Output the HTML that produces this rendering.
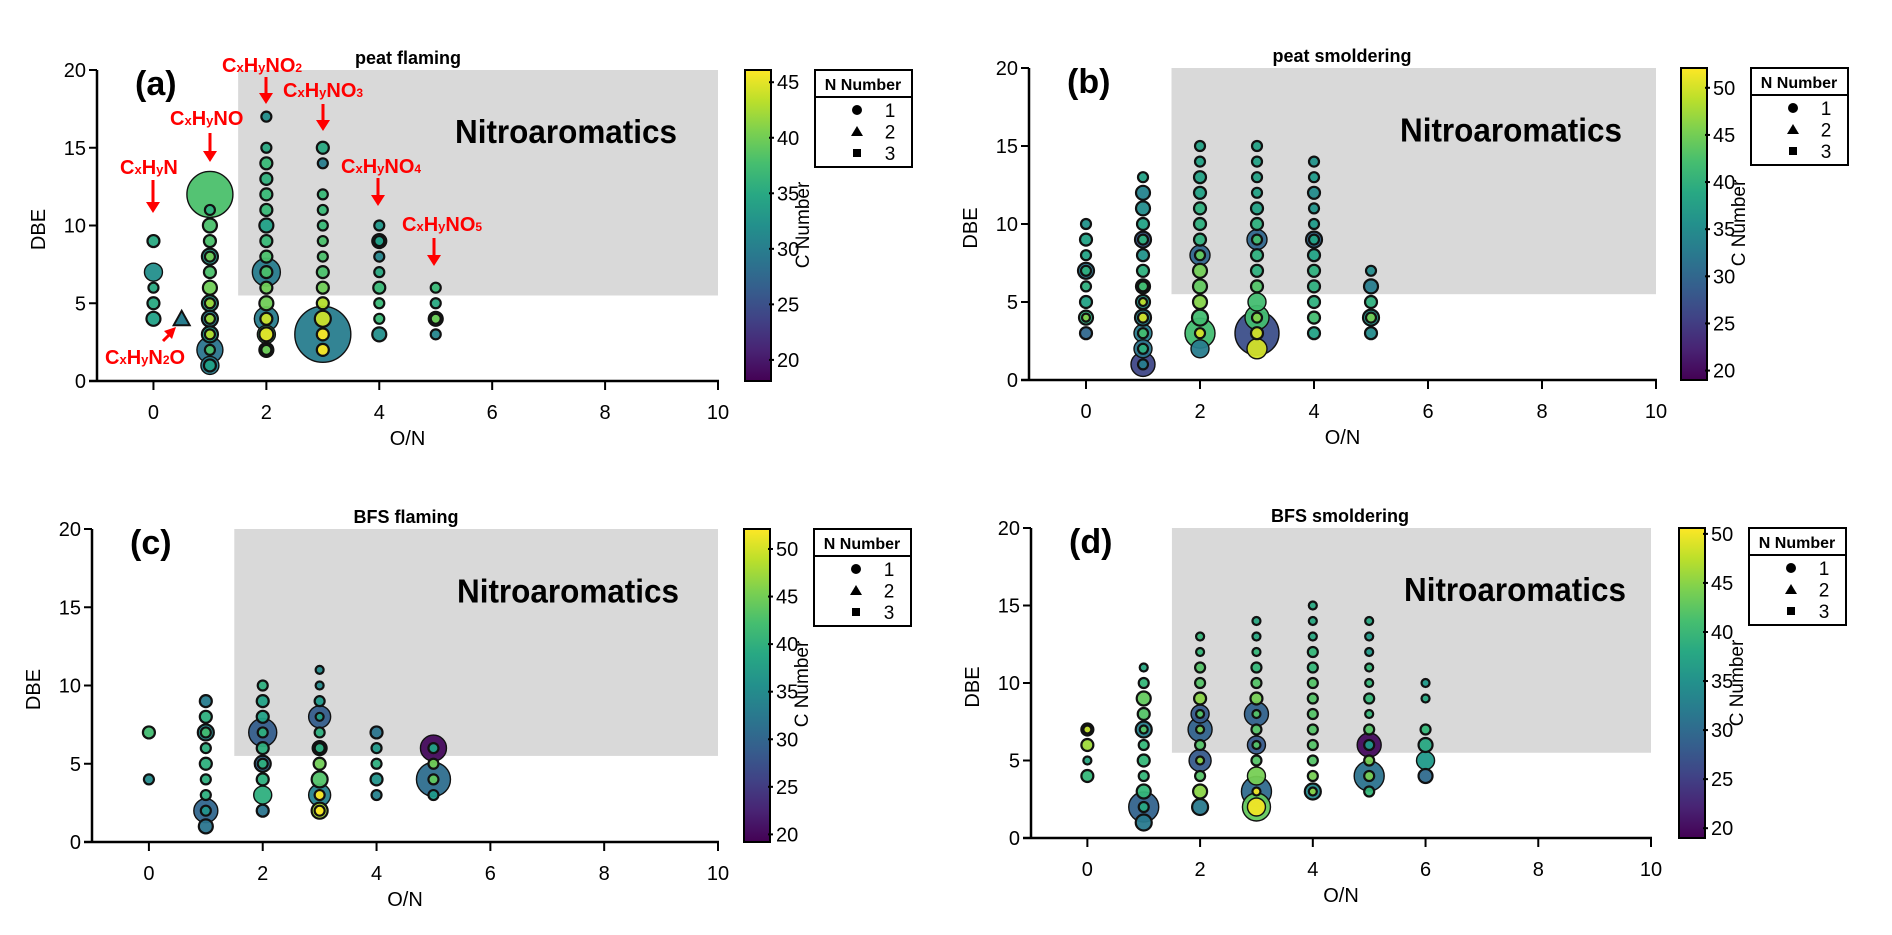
<!DOCTYPE html>
<html><head><meta charset="utf-8"><style>
html,body{margin:0;padding:0;background:#fff;}
svg{display:block;font-family:"Liberation Sans Narrow","Liberation Sans",sans-serif;}
</style></head><body>
<svg id="fig" width="1892" height="935" viewBox="0 0 1892 935" xmlns="http://www.w3.org/2000/svg"></svg>
<script>
// ---- data: [O/N, DBE, bubble size, C number] ----
const peatFlaming = [
[0,9,6,35],[0,7,9,32],[0,6,5,35],[0,5,6,35],[0,4,7,34],
[1,12,23,38],[1,11,5,36],[1,10,7,38],[1,9,6,38],[1,8,8,33],[1,8,5,40],[1,7,6,38],[1,6,7,40],[1,5,8,33],[1,5,5,42],[1,4,8,30],[1,4,5,42],[1,3,8,33],[1,3,5,43],[1,2,13,29],[1,2,5,38],[1,1,9,30],[1,1,6,34],
[2,17,5,32],[2,15,5,35],[2,14,6,37],[2,13,6,36],[2,12,6,37],[2,11,6,37],[2,10,7,34],[2,9,6,37],[2,8,6,38],[2,7,14,30],[2,7,6,38],[2,6,6,40],[2,5,7,40],[2,4,12,30],[2,4,6,44],[2,3,9,38],[2,3,7,45],[2,2,7,36],[2,2,5,40],
[3,15,6,35],[3,14,5,30],[3,12,5,37],[3,11,5,37],[3,10,5,37],[3,9,5,38],[3,8,5,38],[3,7,6,38],[3,6,6,40],[3,5,6,43],[3,4,8,44],[3,3,28,30],[3,3,6,46],[3,2,6,46],
[4,10,5,33],[4,9,7,31],[4,9,5,34],[4,8,5,31],[4,7,5,35],[4,6,6,37],[4,5,5,37],[4,4,5,37],[4,3,7,32],
[5,6,5,37],[5,5,5,35],[5,4,7,35],[5,4,5,40],[5,3,5,31]
];
const peatFlamingN2 = [[0.5,4,8,30]];
const peatSmoldering = [
[0,10,5,36],[0,9,6,38],[0,8,5,38],[0,7,8,32],[0,7,5,40],[0,6,5,40],[0,5,6,38],[0,4,7,40],[0,4,4,46],[0,3,6,30],
[1,13,5,38],[1,12,7,34],[1,11,7,35],[1,10,6,38],[1,9,8,28],[1,9,5,40],[1,8,6,36],[1,7,6,40],[1,6,7,36],[1,6,5,42],[1,5,7,36],[1,5,4,49],[1,4,8,34],[1,4,5,50],[1,3,9,33],[1,3,5,42],[1,2,9,32],[1,2,5,40],[1,1,12,26],[1,1,5,33],
[2,15,5,38],[2,14,5,38],[2,13,6,38],[2,12,6,38],[2,11,6,40],[2,10,6,40],[2,9,6,40],[2,8,10,30],[2,8,5,44],[2,7,7,45],[2,6,7,44],[2,5,7,46],[2,4,8,42],[2,3,15,42],[2,3,5,50],[2,2,9,33],
[3,15,5,38],[3,14,5,38],[3,13,5,38],[3,12,5,38],[3,11,6,38],[3,10,6,40],[3,9,10,30],[3,9,5,42],[3,8,6,40],[3,7,6,40],[3,6,6,43],[3,5,9,42],[3,4,12,42],[3,4,5,46],[3,3,22,27],[3,3,6,50],[3,2,10,50],
[4,14,5,36],[4,13,5,37],[4,12,6,35],[4,11,5,36],[4,10,5,37],[4,9,8,30],[4,9,5,38],[4,8,6,38],[4,7,6,40],[4,6,6,40],[4,5,6,40],[4,4,6,42],[4,3,6,38],
[5,7,5,35],[5,6,7,33],[5,5,6,40],[5,4,8,36],[5,4,5,45],[5,3,6,35]
];
const bfsFlaming = [
[0,7,6,42],[0,4,5,35],
[1,9,6,33],[1,8,6,40],[1,7,8,35],[1,7,5,42],[1,6,5,40],[1,5,6,40],[1,4,5,40],[1,3,5,40],[1,2,12,30],[1,2,5,36],[1,1,7,32],
[2,10,5,40],[2,9,6,38],[2,8,6,38],[2,7,14,29],[2,7,5,40],[2,6,6,40],[2,5,8,30],[2,5,5,40],[2,4,6,40],[2,3,9,40],[2,2,6,32],
[3,11,4,35],[3,10,4,35],[3,9,5,37],[3,8,11,29],[3,8,4,38],[3,7,5,40],[3,6,7,30],[3,6,5,40],[3,5,6,45],[3,4,8,43],[3,3,11,34],[3,3,5,52],[3,2,8,48],[3,2,5,52],
[4,7,6,32],[4,6,5,37],[4,5,5,40],[4,4,6,36],[4,3,5,34],
[5,6,13,20],[5,6,5,38],[5,5,5,45],[5,4,17,31],[5,4,5,44],[5,3,5,37]
];
const bfsSmoldering = [
[0,7,6,32],[0,7,4,48],[0,6,6,46],[0,5,4,38],[0,4,6,40],
[1,11,4,38],[1,10,5,40],[1,9,7,43],[1,8,6,42],[1,7,8,33],[1,7,4,42],[1,6,5,40],[1,5,6,40],[1,4,5,40],[1,3,7,40],[1,2,15,29],[1,2,5,38],[1,1,8,32],
[2,13,4,40],[2,12,4,40],[2,11,5,42],[2,10,5,42],[2,9,6,45],[2,8,9,28],[2,8,4,42],[2,7,12,29],[2,7,4,44],[2,6,5,42],[2,5,11,28],[2,5,4,45],[2,4,5,42],[2,3,7,45],[2,2,8,32],
[3,14,4,38],[3,13,4,38],[3,12,4,40],[3,11,5,40],[3,10,5,42],[3,9,6,44],[3,8,12,29],[3,8,4,42],[3,7,5,42],[3,6,9,28],[3,6,4,42],[3,5,5,42],[3,4,9,44],[3,3,15,30],[3,3,4,50],[3,2,14,43],[3,2,9,50],
[4,15,4,38],[4,14,4,38],[4,13,4,38],[4,12,5,40],[4,11,5,40],[4,10,5,42],[4,9,5,42],[4,8,5,42],[4,7,5,42],[4,6,5,42],[4,5,5,42],[4,4,5,44],[4,3,8,34],[4,3,4,45],
[5,14,4,38],[5,13,4,36],[5,12,4,36],[5,11,4,40],[5,10,4,40],[5,9,5,40],[5,8,4,40],[5,7,5,42],[5,6,12,20],[5,6,5,36],[5,5,5,44],[5,4,15,31],[5,4,5,44],[5,3,5,40],
[6,10,4,36],[6,9,4,38],[6,7,5,40],[6,6,7,38],[6,5,9,36],[6,4,7,30]
];
const xTicks = [0,2,4,6,8,10];
const yTicks = [0,5,10,15,20];
const cbTicksA = [20,25,30,35,40,45];
const cbTicksB = [20,25,30,35,40,45,50];
const cbRangeA = [18.1,46.1];
const cbRangeB = [19.0,52.1];
const cbRangeC = [19.2,52.1];
const cbRangeD = [19.0,50.6];
const legendLabels = ["1","2","3"];

const NS = "http://www.w3.org/2000/svg";
const svg = document.getElementById('fig');
function el(tag, attrs, parent, text){
  const e = document.createElementNS(NS, tag);
  for (const k in attrs) e.setAttribute(k, attrs[k]);
  if (text !== undefined) e.textContent = text;
  (parent||svg).appendChild(e);
  return e;
}
const VS = [[68,1,84],[72,40,120],[62,74,137],[49,104,142],[38,130,142],[31,158,137],[53,183,121],[109,205,89],[180,222,44],[253,231,37]];
function viridis(t){
  t = Math.max(0, Math.min(1, t));
  const f = t*(VS.length-1), i = Math.min(VS.length-2, Math.floor(f)), u = f-i;
  const c = VS[i].map((v,k)=>Math.round(v+(VS[i+1][k]-v)*u));
  return `rgb(${c[0]},${c[1]},${c[2]})`;
}

function panel(cfg){
  const g = el('g', {});
  
  
  const X = v => cfg.xl + (v+1)*(cfg.xr-cfg.xl)/11;
  const Y = v => cfg.yb - v*(cfg.yb-cfg.yt)/20;
  const cmap = c => viridis((c-cfg.cr[0])/(cfg.cr[1]-cfg.cr[0]));
  const box = el('rect', {x:X(1.5), y:Y(20), width:X(10)-X(1.5), height:Y(5.5)-Y(20), fill:'#d9d9d9'}, g);
  
  
  const nt = el('text', {x:cfg.ntx, y:Y(15.3), 'font-size':33, 'font-weight':'bold', textLength:222, lengthAdjust:'spacingAndGlyphs'}, g, 'Nitroaromatics');
  
  
  const pts = cfg.pts.slice().sort((a,b)=>b[2]-a[2]);
  pts.forEach(p=>{
    const sw = p[2] <= 8 ? 2.2 : 1.4;
    const c = el('circle', {cx:X(p[0]), cy:Y(p[1]), r:p[2], fill:cmap(p[3]), stroke:'#111', 'stroke-width':sw, 'fill-opacity':0.95}, g);
    
    
  });
  (cfg.tri||[]).forEach(p=>{
    const cx = X(p[0]), cy = Y(p[1]), r = p[2];
    const t = el('polygon', {points:`${cx},${cy-r} ${cx+r},${cy+r*0.8} ${cx-r},${cy+r*0.8}`, fill:cmap(p[3]), stroke:'#111', 'stroke-width':2}, g);
    
    
  });
  const ya = el('line', {x1:X(-1), y1:Y(0)+1, x2:X(-1), y2:Y(20), stroke:'#000', 'stroke-width':2.5}, g);
  
  
  const xa = el('line', {x1:X(-1)-8, y1:Y(0), x2:X(10)+1, y2:Y(0), stroke:'#000', 'stroke-width':2.5}, g);
  
  
  yTicks.forEach(v=>{
    el('line', {x1:X(-1)-8, y1:Y(v), x2:X(-1), y2:Y(v), stroke:'#000', 'stroke-width':2}, g);
    const t = el('text', {x:X(-1)-11, y:Y(v)+7, 'font-size':20, 'text-anchor':'end'}, g, String(v));
    
    
  });
  xTicks.forEach(v=>{
    el('line', {x1:X(v), y1:Y(0), x2:X(v), y2:Y(0)+9, stroke:'#000', 'stroke-width':2}, g);
    const t = el('text', {x:X(v), y:Y(0)+38, 'font-size':20, 'text-anchor':'middle'}, g, String(v));
    
    
  });
  const xt = el('text', {x:(X(-1)+X(10))/2, y:Y(0)+64, 'font-size':20, 'text-anchor':'middle'}, g, 'O/N');
  
  
  const ytx = X(-1)-52, yty = (Y(0)+Y(20))/2+4;
  const yt = el('text', {x:ytx, y:yty, 'font-size':20, 'text-anchor':'middle', transform:`rotate(-90 ${ytx} ${yty})`}, g, 'DBE');
  
  
  const pl = el('text', {x:X(-1)+38, y:Y(20)+25, 'font-size':34, 'font-weight':'bold'}, g, cfg.label);
  
  
  const ti = el('text', {x:cfg.tx, y:Y(20)-6, 'font-size':18, 'font-weight':'bold', 'text-anchor':'middle'}, g, cfg.title);
  
  
  const gid = 'grad'+cfg.label.replace(/\W/g,'');
  const defs = el('defs', {}, g);
  const lg = el('linearGradient', {id:gid, x1:0, y1:1, x2:0, y2:0}, defs);
  for (let i=0;i<=10;i++) el('stop', {offset:i/10, 'stop-color':viridis(i/10)}, lg);
  const cb = el('rect', {x:cfg.cbx, y:Y(20), width:26, height:Y(0)-Y(20), fill:`url(#${gid})`, stroke:'#000', 'stroke-width':2}, g);
  
  
  const CY = v => Y(0) - (v-cfg.cr[0])/(cfg.cr[1]-cfg.cr[0])*(Y(0)-Y(20));
  cfg.cbt.forEach(v=>{
    el('line', {x1:cfg.cbx+24, y1:CY(v), x2:cfg.cbx+29, y2:CY(v), stroke:'#000', 'stroke-width':2}, g);
    const t = el('text', {x:cfg.cbx+32, y:CY(v)+7, 'font-size':20}, g, String(v));
    
    
  });
  const clx = cfg.cbx+64, cly = Y(20)+155;
  const cl = el('text', {x:clx, y:cly, 'font-size':19, 'text-anchor':'middle', transform:`rotate(-90 ${clx} ${cly})`}, g, 'C Number');
  
  
  const lx = cfg.cbx+70, ly = Y(20);
  const lgBox = el('g', {}, g);
  
  
  el('rect', {x:lx, y:ly, width:97, height:97, fill:'#fff', stroke:'#000', 'stroke-width':2}, lgBox);
  el('line', {x1:lx, y1:ly+27, x2:lx+97, y2:ly+27, stroke:'#000', 'stroke-width':2}, lgBox);
  el('text', {x:lx+48, y:ly+20, 'font-size':16, 'font-weight':'bold', 'text-anchor':'middle'}, lgBox, 'N Number');
  const sx = lx+42;
  el('circle', {cx:sx, cy:ly+40, r:5, fill:'#000'}, lgBox);
  el('polygon', {points:`${sx},${ly+56} ${sx+6},${ly+66} ${sx-6},${ly+66}`, fill:'#000'}, lgBox);
  el('rect', {x:sx-4, y:ly+79, width:8, height:8, fill:'#000'}, lgBox);
  legendLabels.forEach((s,i)=>{
    const t = el('text', {x:lx+75, y:ly+47+i*21.5, 'font-size':19, 'text-anchor':'middle'}, lgBox, s);
    
    
  });
  return {X, Y, g};
}

panel({name:'panel-a-peat-flaming', label:'(a)', title:'peat flaming', tx:408, ntx:455, xl:97, xr:718, yb:381, yt:70, cr:cbRangeA, cbt:cbTicksA, cbx:745, pts:peatFlaming, tri:peatFlamingN2});
panel({name:'panel-b-peat-smoldering', label:'(b)', title:'peat smoldering', tx:1342, ntx:1400, xl:1029, xr:1656, yb:380, yt:68, cr:cbRangeB, cbt:cbTicksB, cbx:1681, pts:peatSmoldering});
panel({name:'panel-c-bfs-flaming', label:'(c)', title:'BFS flaming', tx:406, ntx:457, xl:92, xr:718, yb:842, yt:529, cr:cbRangeC, cbt:cbTicksB, cbx:744, pts:bfsFlaming});
panel({name:'panel-d-bfs-smoldering', label:'(d)', title:'BFS smoldering', tx:1340, ntx:1404, xl:1031, xr:1651, yb:838, yt:528, cr:cbRangeD, cbt:cbTicksB, cbx:1679, pts:bfsSmoldering});

const annots = [
  {parts:[['C',20],['x',13],['H',20],['y',13],['N',20]], x:120, y:174, ax:153, a1:180, a2:213},
  {parts:[['C',20],['x',13],['H',20],['y',13],['NO',20]], x:170, y:125, ax:210, a1:133, a2:162},
  {parts:[['C',20],['x',13],['H',20],['y',13],['NO',20],['2',12]], x:222, y:72, ax:266, a1:77, a2:104},
  {parts:[['C',20],['x',13],['H',20],['y',13],['NO',20],['3',12]], x:283, y:97, ax:323, a1:104, a2:131},
  {parts:[['C',20],['x',13],['H',20],['y',13],['NO',20],['4',12]], x:341, y:173, ax:378, a1:178, a2:206},
  {parts:[['C',20],['x',13],['H',20],['y',13],['NO',20],['5',12]], x:402, y:231, ax:434, a1:238, a2:266},
  {parts:[['C',20],['x',13],['H',20],['y',13],['N',20],['2',12],['O',20]], x:105, y:364}
];
annots.forEach(a=>{
  const t = el('text', {x:a.x, y:a.y, fill:'#ff0000', 'font-weight':'bold'});
  
  
  a.parts.forEach(p=>{ el('tspan', {'font-size':p[1]}, t, p[0]); });
  if (a.ax !== undefined){
    el('line', {x1:a.ax, y1:a.a1, x2:a.ax, y2:a.a2-8, stroke:'#ff0000', 'stroke-width':3});
    el('polygon', {points:`${a.ax-7},${a.a2-11} ${a.ax+7},${a.a2-11} ${a.ax},${a.a2}`, fill:'#ff0000'});
  }
});
el('line', {x1:163, y1:341, x2:170, y2:334, stroke:'#ff0000', 'stroke-width':3});
el('polygon', {points:`164,331 176,327 172,339`, fill:'#ff0000'});
</script>
</body></html>
